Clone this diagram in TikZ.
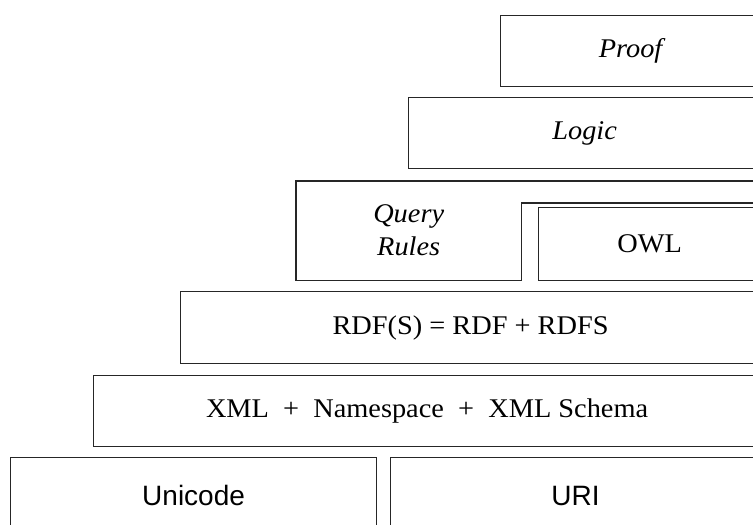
\documentclass[tikz,border=0pt]{standalone}
\usepackage{fontspec}
\setmainfont{Liberation Serif}[FakeStretch=1.05]
\newfontfamily\arialfont{Liberation Sans}
\begin{document}
\begin{tikzpicture}[x=1pt,y=-1pt,
  frame/.style={draw=black!85, line width=1.2pt},
  lbl/.style={font=\fontsize{27}{33}\selectfont, align=center, inner sep=0pt, anchor=north west},
  sans/.style={font=\arialfont\fontsize{28}{33}\selectfont, inner sep=0pt, anchor=north west}]
\useasboundingbox (0,0) rectangle (753,525);
\clip (0,0) rectangle (753,525);
% Proof
\node[lbl, frame, minimum width=260pt, minimum height=71pt] (proof) at (500,15) {\itshape Proof};
% Logic
\node[lbl, frame, minimum width=352pt, minimum height=71pt] (logic) at (408,97) {\itshape Logic};
% Query / Rules
\node[lbl, minimum width=225pt, minimum height=99pt] (query) at (296,181) {\itshape Query\\\itshape Rules};
\coordinate (qtopend) at (760,181);
\coordinate (qstepend) at (760,203);
\draw[frame] (qstepend) -| (query.south east) -- (query.south west) -- (query.north west) -- (qtopend);
% OWL
\node[lbl, frame, minimum width=222pt, minimum height=73pt] (owl) at (538,207) {OWL};
% RDF(S)
\node[lbl, frame, minimum width=580pt, minimum height=72pt] (rdf) at (180,291) {RDF(S) = RDF + RDFS};
% XML
\node[lbl, frame, minimum width=667pt, minimum height=71pt] (xml) at (93,375) {XML\ \ +\ \ Namespace\ \ +\ \ XML Schema};
% Unicode / URI
\node[sans, frame, minimum width=366pt, minimum height=76pt] (unicode) at (10,457) {Unicode};
\node[sans, frame, minimum width=370pt, minimum height=76pt] (uri) at (390,457) {URI};
\end{tikzpicture}
\end{document}
